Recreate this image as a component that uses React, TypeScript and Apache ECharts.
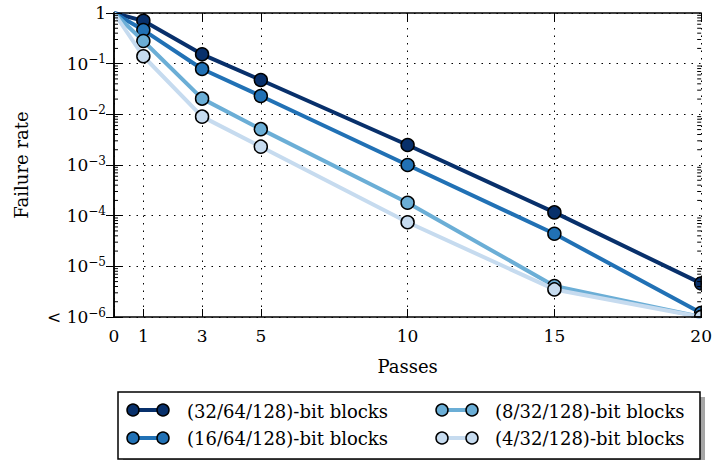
import React, { useEffect, useRef } from "react";
import * as echarts from "echarts";

const passes = [0, 1, 3, 5, 10, 15, 20];
const xTickValues = [0, 1, 3, 5, 10, 15, 20];
const seriesNames = [
  "(32/64/128)-bit blocks",
  "(16/64/128)-bit blocks",
  "(8/32/128)-bit blocks",
  "(4/32/128)-bit blocks",
];
const blocks32 = [1, 0.7, 0.153, 0.0476, 0.00248, 1.16e-4, 4.6e-6];
const blocks16 = [1, 0.46, 0.0785, 0.023, 0.001, 4.4e-5, 1.2e-6];
const blocks8 = [1, 0.28, 0.0204, 0.0051, 1.8e-4, 4.1e-6, 1e-6];
const blocks4 = [1, 0.14, 0.009, 0.0023, 7.4e-5, 3.5e-6, 1e-6];
const allValues = [blocks32, blocks16, blocks8, blocks4];
const colors = ["#08306b", "#2171b5", "#6baed6", "#c6dbef"];
const yMin = 1e-6;
const yMax = 1;
const minorDecades = [-6, -5, -4, -3, -2, -1];
const minorMultipliers = [2, 3, 4, 5, 6, 7, 8, 9];

const FONT = "'DejaVu Serif', serif";
const MARKER_R = 6.5;
const CIRCLE_STEPS = 48;

function yLabel(v: number) {
  const n = Math.round(Math.log10(v));
  if (n === 0) return "1";
  const s = "10{sup|\u2212" + -n + "}";
  if (v <= yMin * 1.0001) return "< " + s;
  return s;
}

export default function App() {
  const ref = useRef<HTMLDivElement>(null);
  useEffect(() => {
    document.body.style.margin = "0";
    if (!ref.current) return;
    const chart = echarts.init(ref.current, undefined, { renderer: "svg" });

    const minorTicks: number[][] = [];
    minorDecades.forEach((d) =>
      minorMultipliers.forEach((m) => minorTicks.push([0, m * Math.pow(10, d)]))
    );

    const series: any[] = [];
    allValues.forEach((vals, i) => {
      series.push({
        type: "line",
        name: seriesNames[i],
        data: passes.map((p, j) => [p, vals[j]]),
        symbol: "none",
        lineStyle: { width: 4, color: colors[i] },
        itemStyle: { color: colors[i] },
        color: colors[i],
        clip: true,
        z: 2 + i * 0.1,
        silent: true,
      });
      series.push({
        type: "custom",
        data: passes.slice(1).map((p, j) => [p, vals[j + 1]]),
        silent: true,
        z: 2.05 + i * 0.1,
        renderItem: (params: any, api: any) => {
          const pt = api.coord([api.value(0), api.value(1)]);
          const cs = params.coordSys;
          const x0 = cs.x, x1 = cs.x + cs.width, y0 = cs.y, y1 = cs.y + cs.height;
          const style = { fill: colors[i], stroke: "#000", lineWidth: 1.5 };
          const inside =
            pt[0] - MARKER_R >= x0 && pt[0] + MARKER_R <= x1 && pt[1] - MARKER_R >= y0 && pt[1] + MARKER_R <= y1;
          if (inside) {
            return { type: "circle", shape: { cx: pt[0], cy: pt[1], r: MARKER_R }, style };
          }
          const points: number[][] = [];
          for (let k = 0; k < CIRCLE_STEPS; k++) {
            const a = (2 * Math.PI * k) / CIRCLE_STEPS;
            const px = Math.min(x1, Math.max(x0, pt[0] + MARKER_R * Math.cos(a)));
            const py = Math.min(y1, Math.max(y0, pt[1] + MARKER_R * Math.sin(a)));
            points.push([px, py]);
          }
          return { type: "polygon", shape: { points }, style };
        },
      });
    });
    series.push({
      type: "custom",
      data: minorTicks,
      silent: true,
      z: 6,
      renderItem: (params: any, api: any) => {
        const y = api.coord([0, api.value(1)])[1];
        const cs = params.coordSys;
        return {
          type: "group",
          children: [
            { type: "line", shape: { x1: cs.x, y1: y, x2: cs.x + 4, y2: y }, style: { stroke: "#000", lineWidth: 1 } },
            { type: "line", shape: { x1: cs.x + cs.width - 4, y1: y, x2: cs.x + cs.width, y2: y }, style: { stroke: "#000", lineWidth: 1 } },
          ],
        };
      },
    });

    const axisLine = { show: true, lineStyle: { color: "#000", width: 1.5 } };
    const tick = { show: true, inside: true, length: 8, lineStyle: { color: "#000", width: 1 } };
    const grid = { show: true, lineStyle: { color: "#000", width: 1, type: [1.5, 6] } };

    const legendIconGraphics: any[] = [];
    const cols = [[133, 163], [442, 472]];
    const rows = [410, 438];
    const legendPos = [[0, 0], [0, 1], [1, 0], [1, 1]];
    legendPos.forEach(([c, r], i) => {
      const [x1, x2] = cols[c];
      const y = rows[r];
      legendIconGraphics.push({
        type: "line",
        z: 10,
        shape: { x1, y1: y, x2, y2: y },
        style: { stroke: colors[i], lineWidth: 4 },
      });
      [x1, x2].forEach((cx) =>
        legendIconGraphics.push({
          type: "circle",
          z: 11,
          shape: { cx, cy: y, r: 6 },
          style: { fill: colors[i], stroke: "#000", lineWidth: 1.5 },
        })
      );
    });

    const legendCommon = {
      orient: "vertical",
      top: 397,
      itemWidth: 40,
      itemHeight: 14,
      itemGap: 9,
      selectedMode: false,
      textStyle: { fontFamily: FONT, fontSize: 18, color: "#000" },
      itemStyle: { opacity: 0 },
      lineStyle: { opacity: 0 },
      z: 8,
    };

    chart.setOption({
      animation: false,
      backgroundColor: "#fff",
      grid: { left: 114, top: 13, right: 12, bottom: 143, containLabel: false },
      xAxis: [
        {
          type: "value",
          min: 0,
          max: 20,
          position: "bottom",
          z: 5,
          axisLine,
          axisTick: { ...tick, customValues: xTickValues },
          axisLabel: {
            customValues: xTickValues,
            fontFamily: FONT,
            fontSize: 17,
            color: "#000",
            margin: 10,
          },
          splitLine: { show: false },
          name: "Passes",
          nameLocation: "middle",
          nameGap: 40,
          nameTextStyle: { fontFamily: FONT, fontSize: 18, color: "#000" },
        },
        {
          type: "value",
          min: 0,
          max: 20,
          position: "top",
          z: 0,
          axisLine,
          axisTick: { ...tick, customValues: xTickValues },
          axisLabel: { show: false, customValues: xTickValues },
          splitLine: grid,
        },
      ],
      yAxis: [
        {
          type: "log",
          logBase: 10,
          min: yMin,
          max: yMax,
          position: "left",
          z: 5,
          axisLine,
          axisTick: tick,
          minorTick: { show: false },
          axisLabel: {
            formatter: yLabel,
            fontFamily: FONT,
            fontSize: 17,
            color: "#000",
            margin: 8,
            rich: {
              sup: { fontFamily: FONT, fontSize: 12, color: "#000", padding: [0, 0, 9, 0] },
            },
          },
          splitLine: { show: false },
          name: "Failure rate",
          nameLocation: "middle",
          nameGap: 84,
          nameTextStyle: { fontFamily: FONT, fontSize: 18, color: "#000" },
        },
        {
          type: "log",
          logBase: 10,
          min: yMin,
          max: yMax,
          position: "right",
          z: 5,
          axisLine,
          axisTick: tick,
          axisLabel: { show: false },
          splitLine: { show: false },
        },
        {
          type: "log",
          logBase: 10,
          min: yMin,
          max: yMax,
          position: "right",
          z: 0,
          axisLine: { show: false },
          axisTick: { show: false },
          axisLabel: { show: false },
          splitLine: grid,
        },
      ],
      legend: [
        { ...legendCommon, left: 136, data: [seriesNames[0], seriesNames[1]] },
        { ...legendCommon, left: 444, data: [seriesNames[2], seriesNames[3]] },
      ],
      graphic: [
        { type: "rect", z: 0, shape: { x: 123, y: 397, width: 582, height: 67 }, style: { fill: "#a6a6a6" } },
        { type: "rect", z: 1, shape: { x: 118, y: 392, width: 582, height: 67 }, style: { fill: "#fff", stroke: "#000", lineWidth: 1.5 } },
        ...legendIconGraphics,
      ],
      series,
    });
    return () => chart.dispose();
  }, []);
  return <div ref={ref} style={{ width: 715, height: 460 }} />;
}
